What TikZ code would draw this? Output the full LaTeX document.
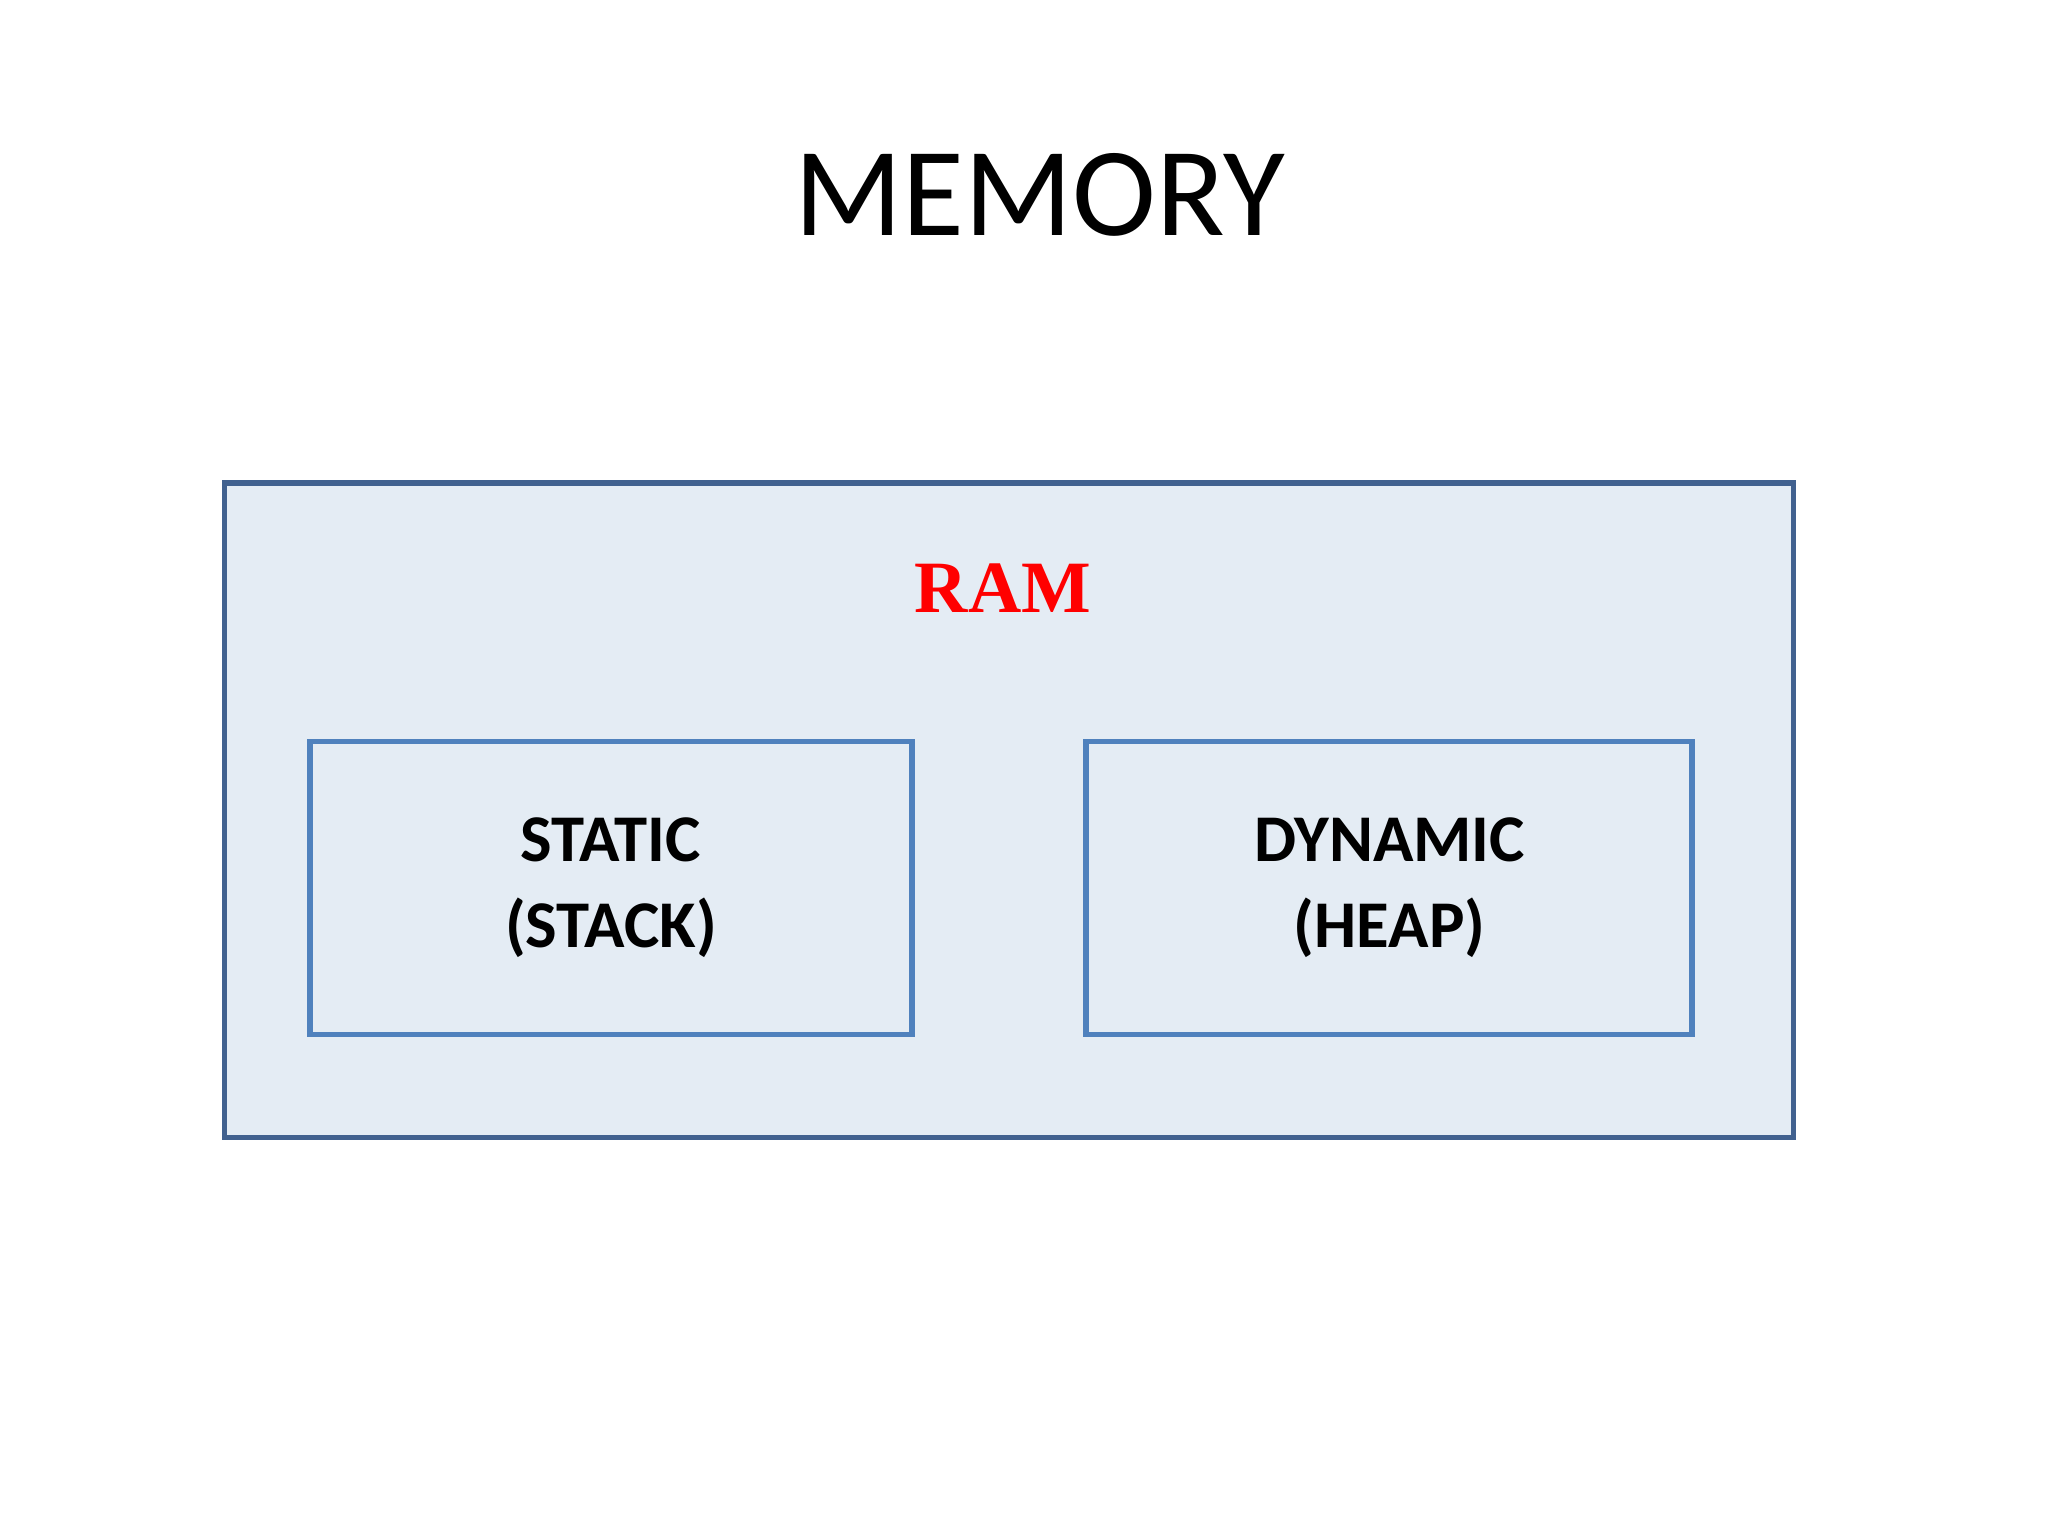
\documentclass[tikz,border=0pt]{standalone}
\usepackage{fontspec}
\setmainfont{Carlito}
\newfontfamily\ramfont{Liberation Serif}
\definecolor{boxfill}{HTML}{E4ECF4}
\definecolor{outerline}{HTML}{41618F}
\definecolor{innerline}{HTML}{4F81BD}
\begin{document}
\begin{tikzpicture}[x=0.0132cm,y=-0.0132cm,
  outer/.style={draw=outerline,line width=1.6pt,fill=boxfill},
  inner/.style={draw=innerline,line width=1.6pt,fill=boxfill},
  lab/.style={font=\fontsize{19}{24.5}\selectfont\bfseries,align=center}]
\useasboundingbox (0,0) rectangle (1552,1164);
\draw[outer] (170,366) rectangle (1359,862);
\draw[inner] (235,562) rectangle (691,784);
\draw[inner] (823,562) rectangle (1282,784);
\node (title) at (788,148) {\fontsize{36}{40}\selectfont MEMORY};
\node[text=red] (ram) at (760,446) {\ramfont\fontsize{21}{24}\selectfont\bfseries RAM};
\node[lab] (stat) at (463,673) {STATIC\\(STACK)};
\node[lab] (dyn) at (1053,673) {DYNAMIC\\(HEAP)};
\end{tikzpicture}
\end{document}
